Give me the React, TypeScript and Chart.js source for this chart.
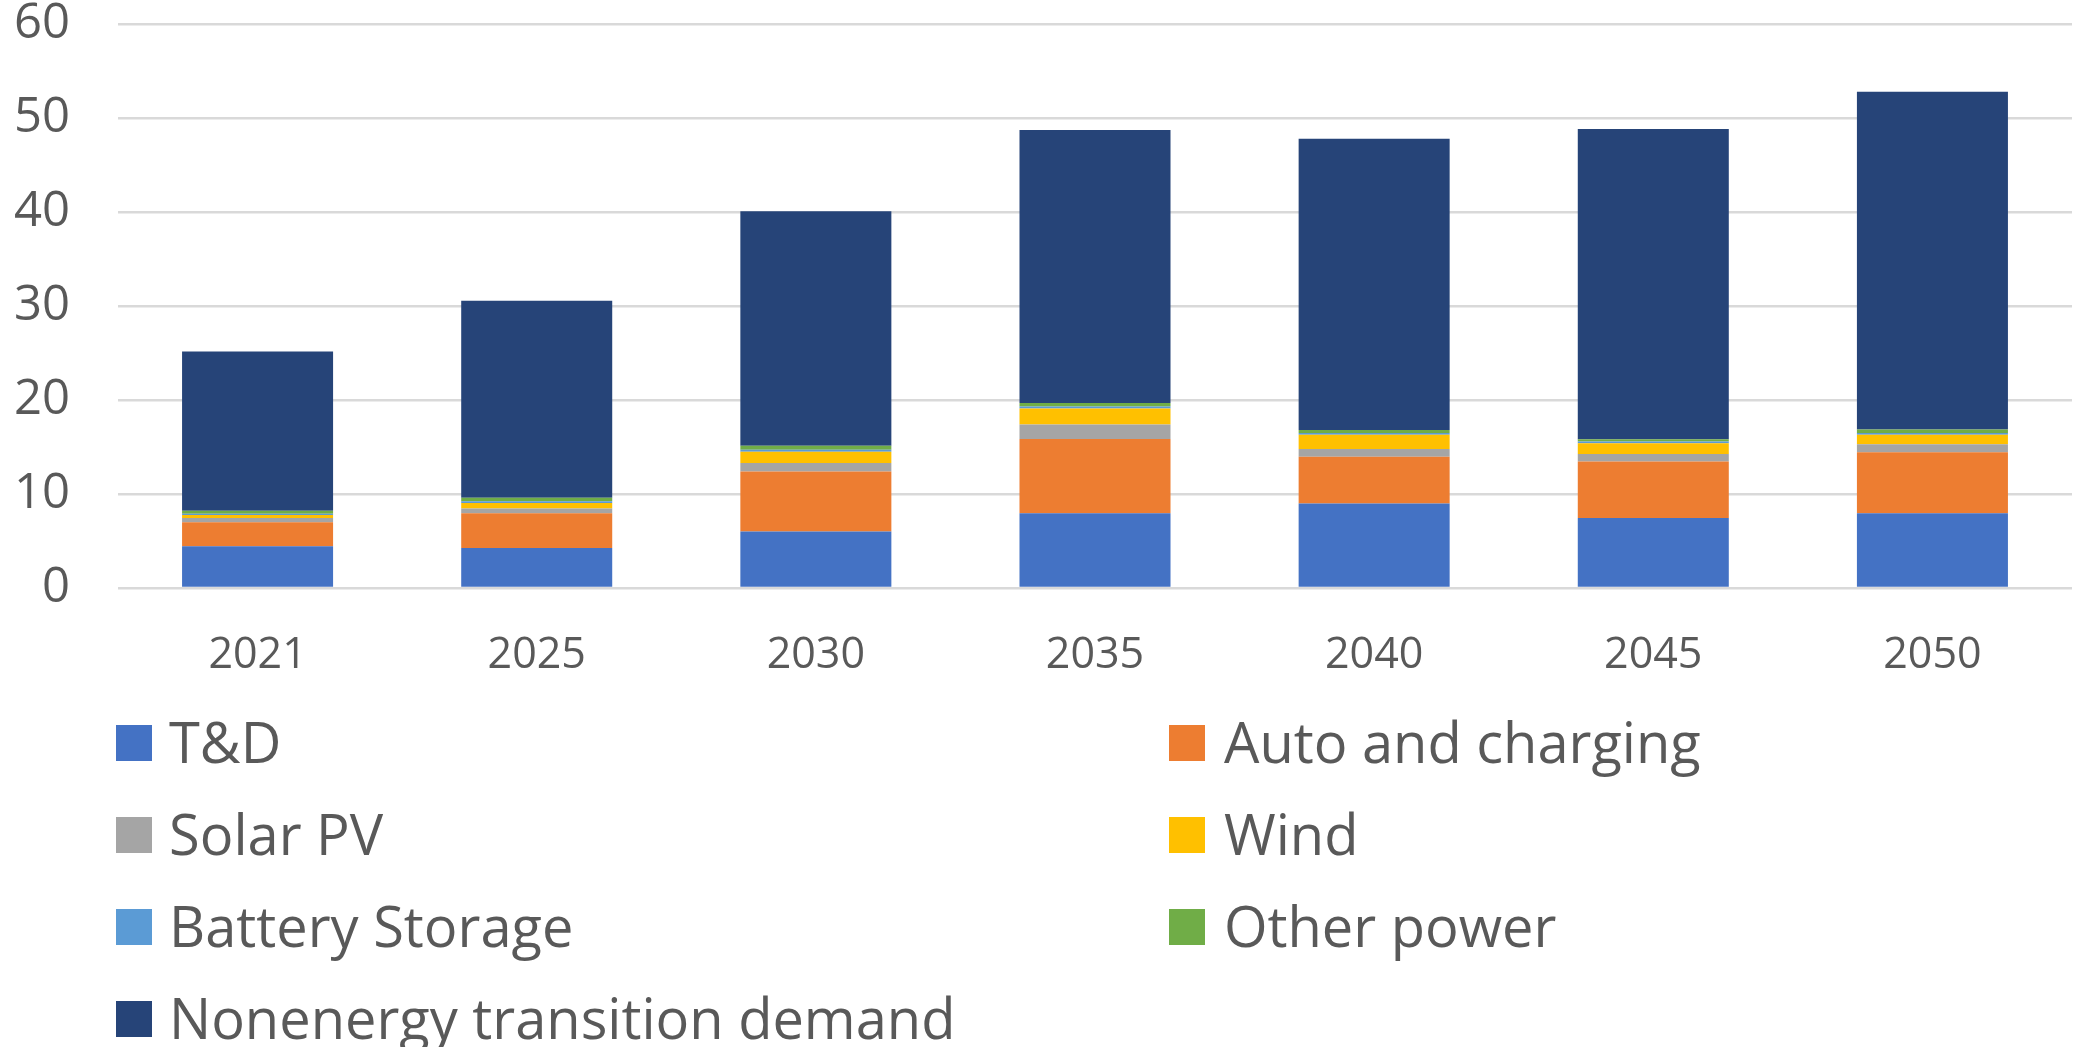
import React, { useEffect, useRef } from "react";
import { Chart, registerables } from "chart.js";

Chart.register(...registerables);

const categories = ["2021", "2025", "2030", "2035", "2040", "2045", "2050"];
const tdValues = [4.45, 4.25, 6.0, 7.95, 9.0, 7.45, 7.95];
const autoValues = [2.55, 3.7, 6.4, 7.9, 4.95, 6.0, 6.5];
const solarValues = [0.45, 0.5, 0.9, 1.55, 0.85, 0.8, 0.85];
const windValues = [0.32, 0.6, 1.2, 1.7, 1.5, 1.15, 1.0];
const batteryValues = [0.12, 0.18, 0.22, 0.22, 0.18, 0.18, 0.18];
const otherValues = [0.32, 0.37, 0.4, 0.35, 0.32, 0.25, 0.37];
const nonenergyValues = [16.95, 20.95, 24.95, 29.05, 31.0, 33.0, 35.95];
const yTicks = [0, 10, 20, 30, 40, 50, 60];

const seriesNames = [
  "T&D",
  "Auto and charging",
  "Solar PV",
  "Wind",
  "Battery Storage",
  "Other power",
  "Nonenergy transition demand",
];
const seriesColors = ["#4472C4", "#ED7D31", "#A5A5A5", "#FFC000", "#5B9BD5", "#70AD47", "#264478"];
const seriesValues = [tdValues, autoValues, solarValues, windValues, batteryValues, otherValues, nonenergyValues];

const FONT = "'Open Sans', 'Noto Sans', sans-serif";
const TEXT = "#595959";

export default function App() {
  const ref = useRef<HTMLCanvasElement | null>(null);

  useEffect(() => {
    if (!ref.current) return;
    const chart = new Chart(ref.current, {
      type: "bar",
      data: {
        labels: categories,
        datasets: seriesNames.map((name, i) => ({
          label: name,
          data: seriesValues[i],
          backgroundColor: seriesColors[i],
          borderWidth: 0,
          barPercentage: 0.541,
          categoryPercentage: 1,
        })),
      },
      options: {
        animation: false,
        responsive: false,
        maintainAspectRatio: false,
        layout: { padding: { top: 24, left: 0, right: 13, bottom: 0 } },
        plugins: { legend: { display: false }, tooltip: { enabled: false } },
        scales: {
          x: {
            stacked: true,
            grid: { display: false, drawTicks: false },
            border: { display: false },
            ticks: {
              color: TEXT,
              font: { family: FONT, size: 43, lineHeight: 1.2 },
              padding: 42,
            },
            afterFit: (scale: any) => {
              scale.height = 112;
            },
          },
          y: {
            stacked: true,
            min: 0,
            max: 60,
            afterBuildTicks: (scale: any) => {
              scale.ticks = yTicks.map((v) => ({ value: v }));
            },
            grid: { color: "#D9D9D9", lineWidth: 2.5, drawTicks: false },
            border: { display: false },
            ticks: {
              color: TEXT,
              font: { family: FONT, size: 49, lineHeight: 1 },
              padding: 48,
            },
            afterFit: (scale: any) => {
              scale.width = 118;
              scale.paddingTop = 0;
              scale.paddingBottom = 0;
            },
          },
        },
      },
    });
    return () => chart.destroy();
  }, []);

  const leftX = [116, 1169];
  const textX = [169, 1224];
  const rowY = [743, 835, 927, 1019];

  return (
    <div
      style={{
        position: "fixed",
        left: 0,
        top: 0,
        width: 2085,
        height: 1047,
        background: "#ffffff",
        overflow: "hidden",
      }}
    >
      <canvas
        ref={ref}
        width={2085}
        height={700}
        style={{ position: "absolute", left: 0, top: 0, width: 2085, height: 700 }}
      />
      {seriesNames.map((name, i) => {
        const col = i % 2;
        const row = Math.floor(i / 2);
        const cy = rowY[row];
        return (
          <React.Fragment key={name}>
            <div
              style={{
                position: "absolute",
                left: leftX[col],
                top: cy - 18,
                width: 36,
                height: 36,
                background: seriesColors[i],
              }}
            />
            <div
              style={{
                position: "absolute",
                left: textX[col],
                top: cy - 30,
                height: 56,
                lineHeight: "56px",
                fontFamily: FONT,
                fontSize: 56,
                color: TEXT,
                whiteSpace: "nowrap",
              }}
            >
              {name}
            </div>
          </React.Fragment>
        );
      })}
    </div>
  );
}
